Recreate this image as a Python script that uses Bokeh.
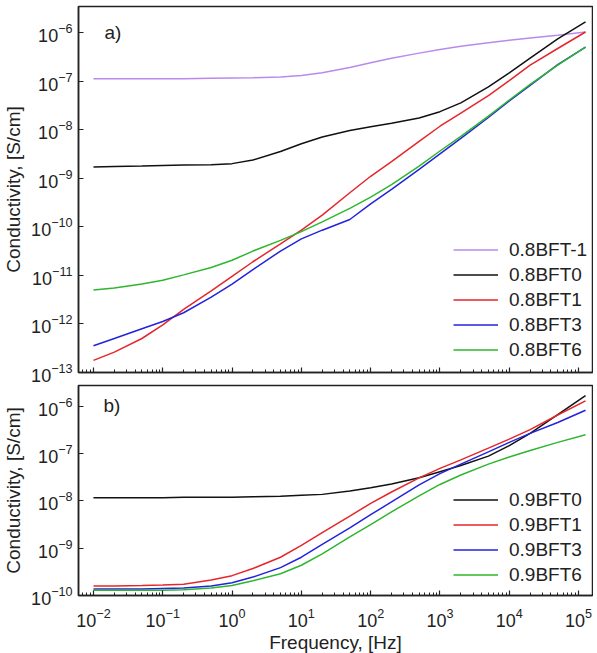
from bokeh.plotting import figure
from bokeh.layouts import column
from bokeh.models import Range1d, FixedTicker, Legend, LegendItem, Label, CustomJSTickFormatter
from bokeh.embed import file_html
from bokeh.resources import INLINE

# ---------------- data ----------------
freq = [0.01, 0.02, 0.05, 0.1, 0.2, 0.5, 1, 2, 5, 10, 20, 50, 100, 200, 500,
        1e3, 2e3, 5e3, 1e4, 2e4, 5e4, 1.26e5]

# panel a) log10 of conductivity [S/cm]
lg_08BFTm1 = [-6.95, -6.95, -6.95, -6.95, -6.95, -6.94, -6.935, -6.93, -6.915, -6.885, -6.83,
              -6.72, -6.625, -6.53, -6.425, -6.35, -6.285, -6.21, -6.16, -6.115, -6.055, -5.99]
lg_08BFT0 = [-8.77, -8.76, -8.75, -8.74, -8.73, -8.725, -8.70, -8.625, -8.45, -8.29, -8.15,
             -8.02, -7.94, -7.87, -7.76, -7.63, -7.45, -7.12, -6.83, -6.53, -6.13, -5.78]
lg_08BFT1 = [-12.75, -12.58, -12.30, -12.02, -11.70, -11.32, -11.02, -10.72, -10.35, -10.07, -9.76,
             -9.30, -8.96, -8.66, -8.24, -7.93, -7.66, -7.30, -6.99, -6.67, -6.33, -5.99]
lg_08BFT3 = [-12.45, -12.30, -12.10, -11.95, -11.77, -11.45, -11.18, -10.88, -10.50, -10.25, -10.07,
             -9.85, -9.53, -9.23, -8.82, -8.50, -8.18, -7.75, -7.41, -7.09, -6.66, -6.30]
lg_08BFT6 = [-11.30, -11.26, -11.18, -11.10, -10.99, -10.84, -10.69, -10.50, -10.28, -10.10, -9.90,
             -9.62, -9.39, -9.13, -8.75, -8.44, -8.14, -7.72, -7.39, -7.07, -6.67, -6.30]

# panel b) log10 of conductivity [S/cm]
lg_09BFT0 = [-7.93, -7.93, -7.93, -7.93, -7.92, -7.92, -7.92, -7.91, -7.90, -7.88, -7.86,
             -7.79, -7.72, -7.64, -7.51, -7.38, -7.25, -7.05, -6.83, -6.57, -6.17, -5.77]
lg_09BFT1 = [-9.80, -9.80, -9.79, -9.78, -9.76, -9.67, -9.58, -9.43, -9.19, -8.94, -8.67,
             -8.32, -8.05, -7.81, -7.51, -7.31, -7.13, -6.88, -6.69, -6.49, -6.18, -5.88]
lg_09BFT3 = [-9.86, -9.86, -9.86, -9.85, -9.84, -9.80, -9.73, -9.61, -9.41, -9.19, -8.92,
             -8.57, -8.29, -8.02, -7.66, -7.42, -7.22, -6.96, -6.76, -6.57, -6.34, -6.08]
lg_09BFT6 = [-9.89, -9.89, -9.89, -9.89, -9.88, -9.84, -9.79, -9.69, -9.54, -9.36, -9.12,
             -8.76, -8.50, -8.23, -7.89, -7.65, -7.45, -7.22, -7.07, -6.93, -6.76, -6.60]

labels_a = ["0.8BFT-1", "0.8BFT0", "0.8BFT1", "0.8BFT3", "0.8BFT6"]
labels_b = ["0.9BFT0", "0.9BFT1", "0.9BFT3", "0.9BFT6"]
series_a = [lg_08BFTm1, lg_08BFT0, lg_08BFT1, lg_08BFT3, lg_08BFT6]
series_b = [lg_09BFT0, lg_09BFT1, lg_09BFT3, lg_09BFT6]

x_ticks = [1e-2, 1e-1, 1e0, 1e1, 1e2, 1e3, 1e4, 1e5]
y_ticks_a = [1e-13, 1e-12, 1e-11, 1e-10, 1e-9, 1e-8, 1e-7, 1e-6]
y_ticks_b = [1e-10, 1e-9, 1e-8, 1e-7, 1e-6]

# ---------------- styling ----------------
FONT = "Liberation Sans"
TXT = "#222222"
colors_a = ["#B98AEE", "#111111", "#E5262B", "#2323DD", "#2EB62E"]
colors_b = ["#111111", "#E5262B", "#2323DD", "#2EB62E"]

x_minor = [m * 10.0 ** k for k in range(-3, 6) for m in range(2, 10)]
XR = (10 ** -2.216, 10 ** 5.201)


def style(p, yt):
    p.xgrid.grid_line_color = None
    p.ygrid.grid_line_color = None
    p.outline_line_color = "#222222"
    p.outline_line_width = 1.5
    p.background_fill_color = "white"
    p.border_fill_color = "white"
    p.xaxis.ticker = FixedTicker(ticks=x_ticks, minor_ticks=x_minor)
    p.yaxis.ticker = FixedTicker(ticks=yt, minor_ticks=[])
    for ax in (p.xaxis[0], p.yaxis[0]):
        ax.axis_line_color = "#222222"
        ax.axis_line_width = 1.5
        ax.major_tick_line_color = "#222222"
        ax.major_tick_line_width = 1.2
        ax.major_tick_in = 5
        ax.major_tick_out = 0
        ax.minor_tick_line_color = "#222222"
        ax.minor_tick_in = 3
        ax.minor_tick_out = 0
        ax.major_label_text_font = FONT
        ax.major_label_text_font_size = "18px"
        ax.major_label_text_color = TXT
        ax.axis_label_text_font = FONT
        ax.axis_label_text_font_size = "19px"
        ax.axis_label_text_font_style = "normal"
        ax.axis_label_text_color = TXT
    p.yaxis.minor_tick_line_color = None
    p.yaxis.major_label_standoff = 6
    p.yaxis.axis_label = "Conductivity, [S/cm]"
    p.yaxis.axis_label_standoff = 4


def add_legend(p, items, loc):
    lg = Legend(items=items, location=loc, border_line_color=None,
                background_fill_alpha=0, padding=0, margin=0, spacing=0,
                label_height=25, glyph_height=25, glyph_width=45, label_standoff=11,
                label_text_font=FONT, label_text_font_size="19px", label_text_color=TXT)
    p.add_layout(lg)


# ---------------- panel a ----------------
p1 = figure(frame_width=514, frame_height=366, x_axis_type="log", y_axis_type="log",
            x_range=Range1d(*XR), y_range=Range1d(1e-13, 10 ** -5.465),
            output_backend="svg", toolbar_location=None,
            min_border_left=74, min_border_right=1, min_border_top=6, min_border_bottom=12)
style(p1, y_ticks_a)
p1.xaxis.formatter = CustomJSTickFormatter(code="return ''")
p1.xaxis.major_label_standoff = 0

items = []
for lab, lg, col in zip(labels_a, series_a, colors_a):
    r = p1.line(freq, [10 ** v for v in lg], line_color=col, line_width=1.5)
    items.append(LegendItem(label=lab, renderers=[r]))
add_legend(p1, items, (375, 10))
p1.add_layout(Label(x=26, y=340, x_units="screen", y_units="screen", text="a)",
                    text_font=FONT, text_font_size="19px", text_color=TXT,
                    text_baseline="middle"))

# ---------------- panel b ----------------
p2 = figure(frame_width=514, frame_height=210, x_axis_type="log", y_axis_type="log",
            x_range=p1.x_range, y_range=Range1d(1e-10, 10 ** -5.556),
            output_backend="svg", toolbar_location=None,
            min_border_left=74, min_border_right=1, min_border_top=1, min_border_bottom=40)
style(p2, y_ticks_b)
p2.xaxis.axis_label = "Frequency, [Hz]"
p2.xaxis.major_label_standoff = 12
p2.xaxis.axis_label_standoff = 2

items = []
for lab, lg, col in zip(labels_b, series_b, colors_b):
    r = p2.line(freq, [10 ** v for v in lg], line_color=col, line_width=1.5)
    items.append(LegendItem(label=lab, renderers=[r]))
add_legend(p2, items, (375, 8))
p2.add_layout(Label(x=25, y=190, x_units="screen", y_units="screen", text="b)",
                    text_font=FONT, text_font_size="19px", text_color=TXT,
                    text_baseline="middle"))

layout = column(p1, p2, spacing=0)
open("out.html", "w").write(file_html(layout, INLINE))
